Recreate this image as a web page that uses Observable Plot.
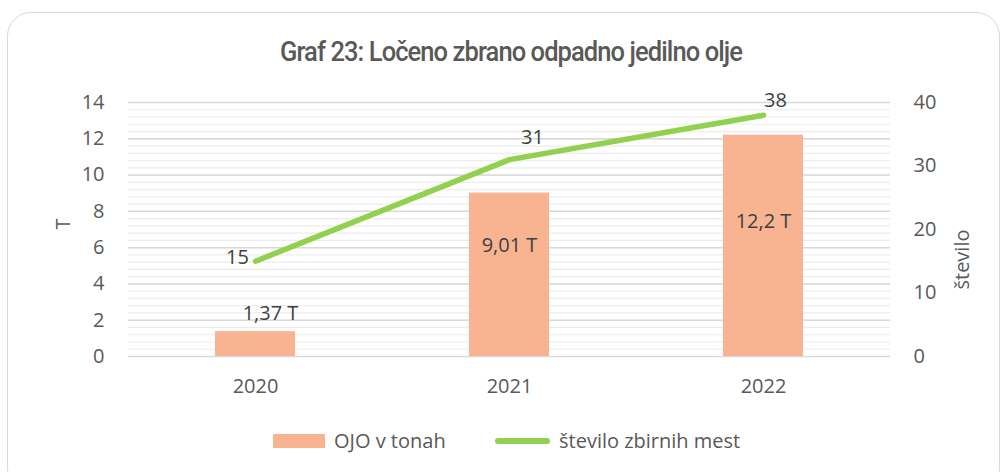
<!DOCTYPE html>
<html><head><meta charset="utf-8">
<script src="https://cdn.jsdelivr.net/npm/d3@7"></script>
<script src="https://cdn.jsdelivr.net/npm/@observablehq/plot@0.6"></script>
<style>
body{margin:0;background:#fff;}
#wrap{position:relative;width:1001px;height:472px;overflow:hidden;font-family:"Open Sans",sans-serif;background:#fff;}
#frame{position:absolute;left:7px;top:12px;width:993px;height:480px;border:1.5px solid #d9d9d9;border-radius:24px;box-sizing:border-box;}
#title{position:absolute;left:280px;top:38px;white-space:nowrap;font-family:Roboto,"DejaVu Sans Condensed",sans-serif;font-weight:500;font-size:28px;color:#595959;letter-spacing:-1px;transform-origin:0 0;line-height:28px;}
#chart{position:absolute;left:0;top:80px;}
#legend{position:absolute;left:0;top:429px;width:1001px;height:24px;font-size:20px;color:#595959;}
.sw{position:absolute;}
.lt{position:absolute;top:0;line-height:24px;white-space:nowrap;}
</style></head>
<body>
<div id="wrap">
  <div id="frame"></div>
  <div id="title"></div>
  <div id="chart"></div>
  <div id="legend"></div>
</div>
<script>
const titleText = "Graf 23: Ločeno zbrano odpadno jedilno olje";
const years = ["2020", "2021", "2022"];
const tonnes = [1.37, 9.01, 12.2];
const sites = [15, 31, 38];
const barLabels = ["1,37 T", "9,01 T", "12,2 T"];
const siteLabels = ["15", "31", "38"];
const leftTicks = [0, 2, 4, 6, 8, 10, 12, 14];
const rightTicks = [0, 10, 20, 30, 40];
const seriesNames = ["OJO v tonah", "število zbirnih mest"];
const leftLabel = "T";
const rightLabel = "število";

const yMax = 14, rMax = 40, k = yMax / rMax;
const barColor = "#F8B490", lineColor = "#92D050";
const data = years.map((y, i) => ({year: y, t: tonnes[i], n: sites[i] * k, bl: barLabels[i], sl: siteLabels[i]}));
const minor = d3.range(0, yMax + 0.001, 0.4).map(v => +v.toFixed(2));

// title
const t = document.getElementById("title");
t.textContent = titleText;
const tw = t.getBoundingClientRect().width;
t.style.transform = `scaleX(${462 / tw})`;

const fs = 20;
const txt = {fontSize: fs, fill: "#404040", fontFamily: "Open Sans"};
const chart = Plot.plot({
  width: 1001, height: 330,
  marginTop: 22, marginBottom: 54, marginLeft: 128, marginRight: 111,
  style: {fontFamily: "Open Sans", fontSize: fs + "px", color: "#595959", background: "transparent"},
  x: {type: "band", domain: years, paddingInner: 0.685, paddingOuter: 0.3425},
  y: {domain: [0, yMax]},
  marks: [
    Plot.ruleY(minor, {stroke: "#ececec", strokeWidth: 1.2}),
    Plot.ruleY(leftTicks, {stroke: "#d9d9d9", strokeWidth: 1.5}),
    Plot.axisY({anchor: "left", ticks: leftTicks, tickSize: 0, tickPadding: 24, label: null, fontSize: fs, fill: "#595959"}),
    Plot.axisY({anchor: "right", ticks: rightTicks.map(v => v * k), tickFormat: d => String(Math.round(d / k)), tickSize: 0, tickPadding: 23, label: null, fontSize: fs, fill: "#595959"}),
    Plot.axisX({tickSize: 0, tickPadding: 22, label: null, fontSize: fs, fill: "#595959"}),
    Plot.barY(data, {x: "year", y: "t", fill: barColor}),
    Plot.line(data, {x: "year", y: "n", stroke: lineColor, strokeWidth: 5.5, strokeLinecap: "round", strokeLinejoin: "round"}),
    Plot.text(data.slice(0, 1), {x: "year", y: "t", text: "bl", dx: 15, dy: -18.5, ...txt}),
    Plot.text(data.slice(1, 2), {x: "year", y: "t", text: "bl", dy: 53, ...txt}),
    Plot.text(data.slice(2, 3), {x: "year", y: "t", text: "bl", dy: 86, ...txt}),
    Plot.text(data.slice(0, 1), {x: "year", y: "n", text: "sl", dx: -18, dy: -4, ...txt}),
    Plot.text(data.slice(1, 2), {x: "year", y: "n", text: "sl", dx: 23, dy: -22, ...txt}),
    Plot.text(data.slice(2, 3), {x: "year", y: "n", text: "sl", dx: 12, dy: -15, ...txt}),
    Plot.text([leftLabel], {frameAnchor: "left", dx: -65, rotate: -90, fontSize: fs, fill: "#595959"}),
    Plot.text([rightLabel], {frameAnchor: "right", dx: 72, rotate: -90, fontSize: fs, fill: "#595959"})
  ]
});
document.getElementById("chart").appendChild(chart);

// legend
const lg = document.getElementById("legend");
lg.innerHTML = `
<div class="sw" style="left:273px;top:5px;width:52px;height:14px;background:${barColor}"></div>
<div class="lt" style="left:334px">${seriesNames[0]}</div>
<div class="sw" style="left:495px;top:9px;width:55px;height:6px;border-radius:3px;background:${lineColor}"></div>
<div class="lt" style="left:559px">${seriesNames[1]}</div>`;
</script>
</body></html>
